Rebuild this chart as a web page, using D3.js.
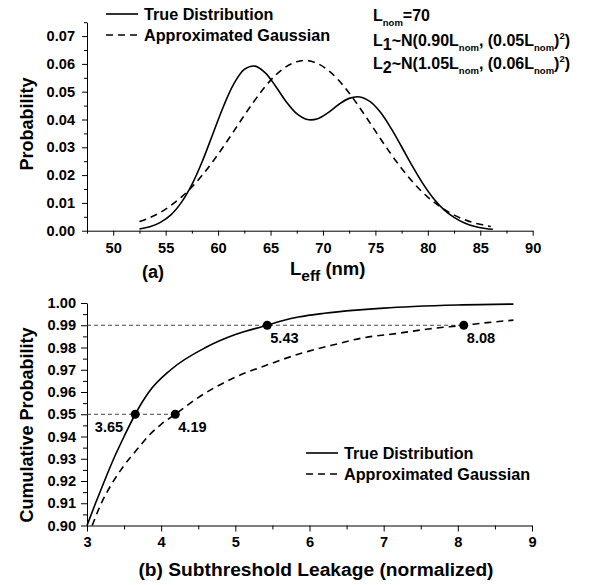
<!DOCTYPE html>
<html>
<head>
<meta charset='UTF-8'>
<title>Leff distribution and leakage CDF</title>
<script src='https://d3js.org/d3.v7.min.js'></script>
<style>
body { margin: 0; background: #fff; }
text { font-family: 'Liberation Sans', Arial, sans-serif; font-weight: bold; fill: #000; }
.axis path, .axis line { stroke: #000; stroke-width: 1; }
.axis text { font-size: 14.6px; font-family: 'Liberation Sans', Arial, sans-serif; font-weight: bold; }
</style>
</head>
<body>
<div id='graph'></div>
<script>
// ---- (a) Leff probability density
var pdfTrueX = [52.5, 53.5, 54.5, 55.5, 56.5, 57.5, 58.5, 59.5, 60.5, 61.5, 62.5, 63.5, 64.5, 65.5, 66.5, 67.5, 68.5,
    69.5, 70.5, 71.5, 72.5, 73.5, 74.5, 75.5, 76.5, 77.5, 78.5, 79.5, 80.5, 81.5, 82.5, 83.5, 84.5, 85.5, 86.2];
var pdfTrueP = [0.0006, 0.0014, 0.0030, 0.0057, 0.0102, 0.0166, 0.0250, 0.0348, 0.0446, 0.0528, 0.0580, 0.0592, 0.0568,
    0.0519, 0.0464, 0.0421, 0.0400, 0.0403, 0.0425, 0.0454, 0.0476, 0.0481, 0.0464, 0.0425, 0.0368, 0.0302, 0.0234,
    0.0171, 0.0118, 0.0077, 0.0048, 0.0028, 0.0015, 0.0008, 0.0005];
var pdfGaussX = [52.5, 53.5, 54.5, 55.5, 56.5, 57.5, 58.5, 59.5, 60.5, 61.5, 62.5, 63.5, 64.5, 65.5, 66.5, 67.5, 68.5,
    69.5, 70.5, 71.5, 72.5, 73.5, 74.5, 75.5, 76.5, 77.5, 78.5, 79.5, 80.5, 81.5, 82.5, 83.5, 84.5, 85.5, 86.0];
var pdfGaussP = [0.0033, 0.0047, 0.0066, 0.0091, 0.0121, 0.0157, 0.0200, 0.0249, 0.0302, 0.0358, 0.0415, 0.0469, 0.0519,
    0.0560, 0.0590, 0.0608, 0.0612, 0.0601, 0.0577, 0.0541, 0.0495, 0.0443, 0.0387, 0.0330, 0.0275, 0.0224, 0.0178,
    0.0138, 0.0105, 0.0078, 0.0056, 0.0040, 0.0027, 0.0019, 0.0015];
var aXTicks = [50, 55, 60, 65, 70, 75, 80, 85, 90];
var aYTicks = [0.00, 0.01, 0.02, 0.03, 0.04, 0.05, 0.06, 0.07];

// ---- (b) cumulative probability of leakage
var cdfTrueX = [3.00, 3.115, 3.235, 3.36, 3.50, 3.65, 3.835, 4.13, 4.60, 5.00, 5.43, 5.62, 5.85, 6.20, 6.63, 7.00, 7.40, 8.00, 8.75];
var cdfTrueP = [0.900, 0.910, 0.920, 0.930, 0.940, 0.950, 0.960, 0.970, 0.980, 0.9858, 0.990, 0.9919, 0.9937,
    0.9954, 0.9968, 0.9977, 0.9984, 0.9991, 0.9995];
var cdfGaussX = [3.07, 3.20, 3.33, 3.50, 3.67, 3.85, 4.00, 4.19, 4.50, 5.00, 5.40, 5.90, 6.30, 6.70, 7.20, 7.60, 8.08, 8.40, 8.75];
var cdfGaussP = [0.900, 0.9105, 0.9185, 0.927, 0.934, 0.941, 0.9455, 0.950, 0.9575, 0.9667, 0.9718, 0.9775, 0.981,
    0.9842, 0.9864, 0.9883, 0.990, 0.9912, 0.9923];
var markX = [3.65, 4.19, 5.43, 8.08];
var markP = [0.95, 0.95, 0.99, 0.99];
var markLabels = ['3.65', '4.19', '5.43', '8.08'];
var bXTicks = [3, 4, 5, 6, 7, 8, 9];
var bYTicks = [0.90, 0.91, 0.92, 0.93, 0.94, 0.95, 0.96, 0.97, 0.98, 0.99, 1.00];

var seriesNames = ['True Distribution', 'Approximated Gaussian'];
var dash = '7,5';

var svg = d3.select('#graph').append('svg')
    .attr('width', 589)
    .attr('height', 585);
svg.append('rect').attr('width', 589).attr('height', 585).attr('fill', '#fff');

function drawAxes(x, y, xTicks, xMinor, yTicks, yMinor, tk, pad) {
    var h = y.range()[0], l = x.range()[0];
    svg.append('g').attr('class', 'axis')
       .attr('transform', 'translate(0,' + h + ')')
       .call(d3.axisBottom(x).tickValues(xTicks).tickSize(tk).tickSizeOuter(0).tickPadding(pad).tickFormat(d3.format('d')));
    svg.append('g').attr('class', 'axis')
       .attr('transform', 'translate(0,' + h + ')')
       .call(d3.axisBottom(x).tickValues(xMinor).tickSize(tk - 2).tickSizeOuter(0).tickFormat(''))
       .select('.domain').remove();
    svg.append('g').attr('class', 'axis')
       .attr('transform', 'translate(' + l + ',0)')
       .call(d3.axisLeft(y).tickValues(yTicks).tickSize(tk).tickSizeOuter(0).tickPadding(pad).tickFormat(d3.format('.2f')));
    svg.append('g').attr('class', 'axis')
       .attr('transform', 'translate(' + l + ',0)')
       .call(d3.axisLeft(y).tickValues(yMinor).tickSize(tk - 2).tickSizeOuter(0).tickFormat(''))
       .select('.domain').remove();
}

function drawLegend(lx, ly) {
    seriesNames.forEach(function(name, i) {
        var yy = ly + i * 21;
        svg.append('line')
           .attr('x1', lx).attr('x2', lx + 32).attr('y1', yy).attr('y2', yy)
           .attr('stroke', '#000').attr('stroke-width', 1.6)
           .attr('stroke-dasharray', i == 1 ? dash : null);
        svg.append('text')
           .attr('x', lx + 38).attr('y', yy + 5.8)
           .style('font-size', '16.2px')
           .text(name);
    });
}

// ================= (a)
var xA = d3.scaleLinear().domain([47.5, 90]).range([87, 532.7]);
var yA = d3.scaleLinear().domain([0, 0.075]).range([230.7, 22.2]);

drawAxes(xA, yA, aXTicks, d3.range(47.5, 90, 5), aYTicks, d3.range(0.005, 0.08, 0.01), 5, 7);

var lineA = d3.line()
    .x(d => xA(d[0]))
    .y(d => yA(d[1]))
    .curve(d3.curveCatmullRom);

svg.append('path')
   .datum(d3.zip(pdfTrueX, pdfTrueP))
   .attr('d', lineA)
   .attr('fill', 'none').attr('stroke', '#000').attr('stroke-width', 1.6);

svg.append('path')
   .datum(d3.zip(pdfGaussX, pdfGaussP))
   .attr('d', lineA)
   .attr('fill', 'none').attr('stroke', '#000').attr('stroke-width', 1.6)
   .attr('stroke-dasharray', dash);

drawLegend(106, 14);

// parameter notes
var notes = svg.append('g').style('font-size', '16px');
var n1 = notes.append('text').attr('x', 373).attr('y', 21);
n1.append('tspan').text('L');
n1.append('tspan').attr('dy', 5).style('font-size', '9.5px').text('nom');
n1.append('tspan').attr('dy', -5).text('=70');

[['1', '0.90', '0.05'], ['2', '1.05', '0.06']].forEach(function(p, i) {
    var t = notes.append('text').attr('x', 373).attr('y', 46 + i * 23);
    t.append('tspan').text('L');
    t.append('tspan').attr('dy', 4).text(p[0]);
    t.append('tspan').attr('dy', -4).text('~N(' + p[1] + 'L');
    t.append('tspan').attr('dy', 5).style('font-size', '9.5px').text('nom');
    t.append('tspan').attr('dy', -5).text(', (' + p[2] + 'L');
    t.append('tspan').attr('dy', 5).style('font-size', '9.5px').text('nom');
    t.append('tspan').attr('dy', -5).text(')');
    t.append('tspan').attr('dy', -7).style('font-size', '9.5px').text('2');
    t.append('tspan').attr('dy', 7).text(')');
});

svg.append('text')
   .attr('transform', 'translate(33,124) rotate(-90)')
   .attr('text-anchor', 'middle')
   .style('font-size', '18px')
   .text('Probability');

svg.append('text')
   .attr('x', 153).attr('y', 278)
   .attr('text-anchor', 'middle')
   .style('font-size', '18px')
   .text('(a)');

var xt = svg.append('text').attr('x', 290).attr('y', 275).style('font-size', '18.5px');
xt.append('tspan').text('L');
xt.append('tspan').attr('dy', 6).style('font-size', '15.5px').text('eff');
xt.append('tspan').attr('dy', -6).text(' (nm)');

// ================= (b)
var xB = d3.scaleLinear().domain([3, 9]).range([87, 532]);
var yB = d3.scaleLinear().domain([0.90, 1.00]).range([525.5, 303]);

drawAxes(xB, yB, bXTicks, d3.range(3.5, 9, 1), bYTicks, d3.range(0.905, 1.0, 0.01), 6, 5);

var lineB = d3.line()
    .x(d => xB(d[0]))
    .y(d => yB(d[1]))
    .curve(d3.curveMonotoneX);

// reference levels
markX.forEach(function(mx, i) {
    if (i % 2 == 0) return;
    svg.append('line')
       .attr('x1', xB(3)).attr('x2', xB(mx))
       .attr('y1', yB(markP[i])).attr('y2', yB(markP[i]))
       .attr('stroke', '#444').attr('stroke-width', 1)
       .attr('stroke-dasharray', '4,3');
});

svg.append('path')
   .datum(d3.zip(cdfTrueX, cdfTrueP))
   .attr('d', lineB)
   .attr('fill', 'none').attr('stroke', '#000').attr('stroke-width', 1.6);

svg.append('path')
   .datum(d3.zip(cdfGaussX, cdfGaussP))
   .attr('d', lineB)
   .attr('fill', 'none').attr('stroke', '#000').attr('stroke-width', 1.6)
   .attr('stroke-dasharray', dash);

svg.selectAll('circle.mark')
   .data(d3.zip(markX, markP))
   .enter()
   .append('circle')
   .attr('class', 'mark')
   .attr('cx', d => xB(d[0]))
   .attr('cy', d => yB(d[1]))
   .attr('r', 4.5)
   .attr('fill', '#000');

svg.selectAll('text.mark')
   .data(markLabels)
   .enter()
   .append('text')
   .attr('class', 'mark')
   .attr('x', (d, i) => xB(markX[i]) + (i == 0 ? -12 : 3))
   .attr('y', (d, i) => yB(markP[i]) + 18)
   .attr('text-anchor', (d, i) => i == 0 ? 'end' : 'start')
   .style('font-size', '14.6px')
   .text(d => d);

drawLegend(306, 453);

svg.append('text')
   .attr('transform', 'translate(33,425) rotate(-90)')
   .attr('text-anchor', 'middle')
   .style('font-size', '18px')
   .text('Cumulative Probability');

svg.append('text')
   .attr('x', 316).attr('y', 576)
   .attr('text-anchor', 'middle')
   .style('font-size', '19.2px')
   .text('(b) Subthreshold Leakage (normalized)');
</script>
</body>
</html>
